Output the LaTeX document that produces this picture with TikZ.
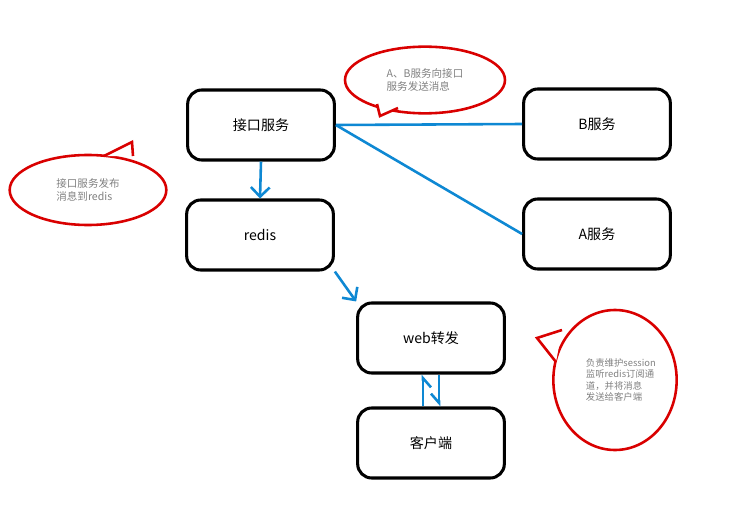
\documentclass[tikz,border=0pt]{standalone}
\usepackage{fontspec}
\setmainfont{Noto Sans CJK SC}
\usetikzlibrary{arrows.meta,shapes.geometric}
\tikzset{
	svc/.style={draw, line width=2.6pt, rounded corners=12pt, minimum width=4.4cm, minimum height=2.1cm, font=\large},
	link/.style={draw=cyan!70!blue, line width=2.2pt},
	bubble/.style={draw=red!85!black, line width=2.2pt, ellipse},
	note/.style={text=gray, font=\small, align=left},
}
\begin{document}
\begin{tikzpicture}[x=0.03cm, y=-0.03cm]
\useasboundingbox (0,0) rectangle (750,506);
% the boxes
\node[svc] (api) at (261,125) {接口服务};
\node[svc] (redis) at (260,235) {redis};
\node[svc] (b) at (597,124) {B服务};
\node[svc] (a) at (597,234) {A服务};
\node[svc] (web) at (431,338) {web转发};
\node[svc] (client) at (431,443) {客户端};

% the links
\draw[link] (api.east) -- (b.west);
\draw[link] (api.east) -- (a.west);
\draw[link, -{Straight Barb[length=8pt,width=16pt]}] (api.south) -- (redis.north);
\draw[link, -{Straight Barb[length=8pt,width=16pt]}] (redis.south east) -- (web.north west);
\draw[link, -{Straight Barb[right,length=8pt,width=14pt]}] ([xshift=-7]client.north) -- ([xshift=-7]web.south);
\draw[link, -{Straight Barb[right,length=8pt,width=14pt]}] ([xshift=7]web.south) -- ([xshift=7]client.north);

% the bubbles
\node[bubble, minimum width=4.8cm, minimum height=2.0cm] (nab) at (425,80) {};
\coordinate (tab) at (380,116);
\filldraw[draw=red!85!black, fill=white, line width=2.2pt] (377,104) -- (tab) -- (398,108);
\node[note] at (nab) {A、B服务向接口\\服务发送消息};

\node[bubble, minimum width=4.7cm, minimum height=2.1cm] (npub) at (88,190) {};
\coordinate (tpub) at (132,142);
\filldraw[draw=red!85!black, fill=white, line width=2.2pt] (104,156) -- (tpub) -- (133,156);
\node[note] at (npub) {接口服务发布\\消息到redis};

\node[bubble, minimum width=3.7cm, minimum height=4.2cm] (nweb) at (615,380) {};
\coordinate (tweb) at (537,338);
\filldraw[draw=red!85!black, fill=white, line width=2.2pt] (562,330) -- (tweb) -- (556,362);
\node[note, font=\footnotesize] at ([xshift=5]nweb) {负责维护session\\监听redis订阅通\\道，并将消息\\发送给客户端};
\end{tikzpicture}
\end{document}
